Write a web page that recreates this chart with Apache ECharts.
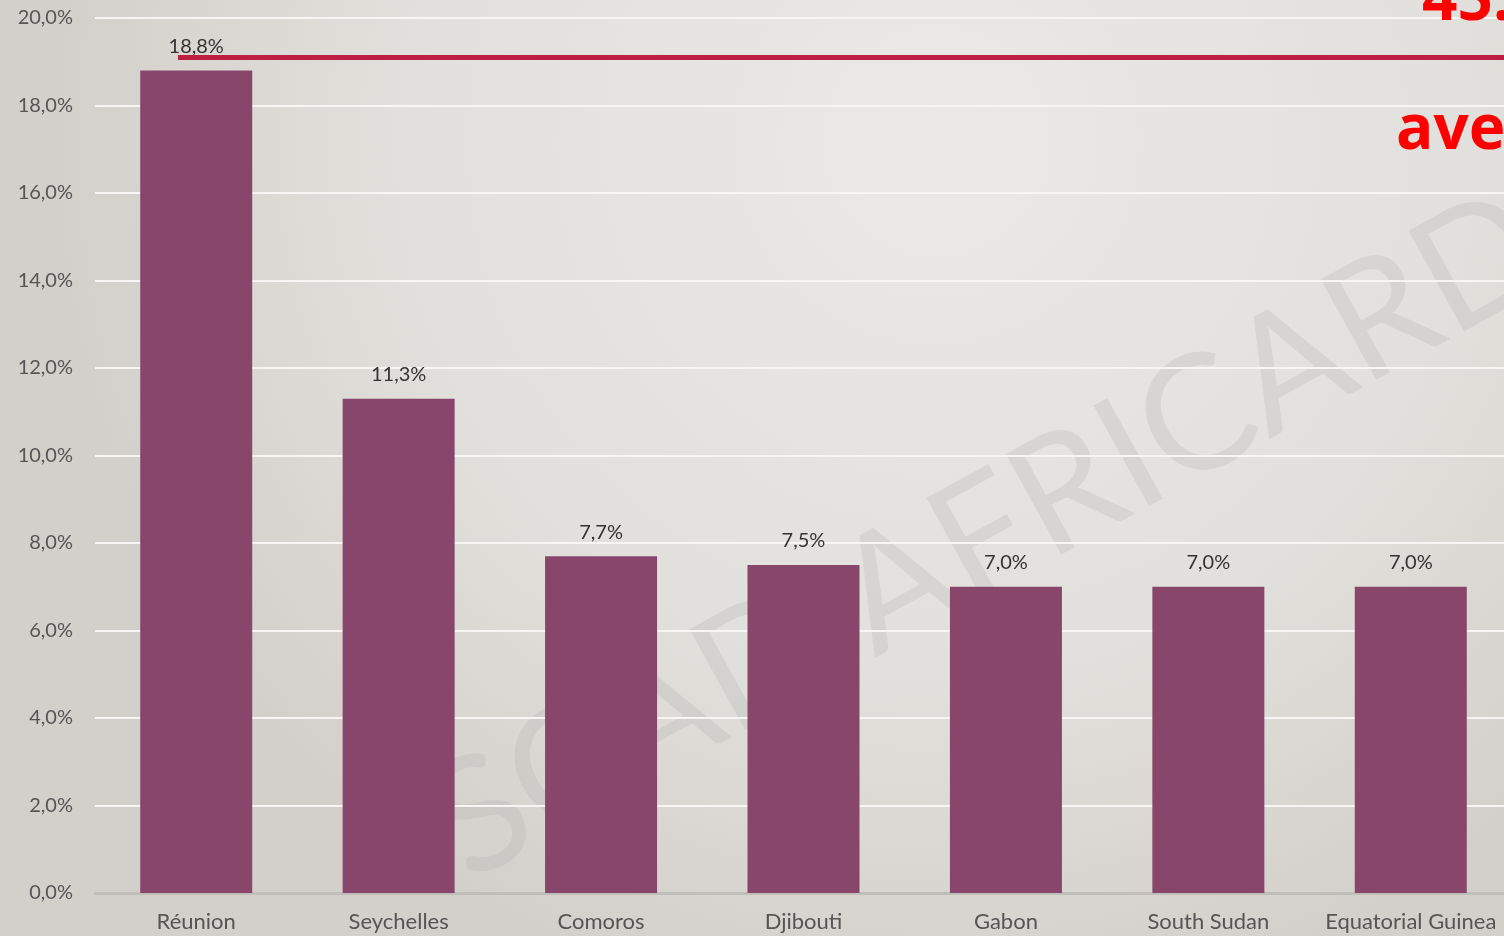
<!DOCTYPE html>
<html>
<head>
<meta charset="utf-8">
<script src="https://cdn.jsdelivr.net/npm/echarts@6/dist/echarts.min.js"></script>
<style>
html,body{margin:0;padding:0;width:1504px;height:936px;overflow:hidden;}
#c{width:1512px;height:936px;}
</style>
</head>
<body>
<div id="c"></div>
<script>
const categories = ['Réunion', 'Seychelles', 'Comoros', 'Djibouti', 'Gabon', 'South Sudan', 'Equatorial Guinea'];
const values = [18.8, 11.3, 7.7, 7.5, 7.0, 7.0, 7.0];
const referenceValue = 19.1;
const yTicks = { min: 0, max: 20, interval: 2 };
const overlayTexts = ['45.', 'ave'];
const watermarkText = 'SCAD AFRICARD';

const fmt = v => v.toFixed(1).replace('.', ',') + '%';
const chart = echarts.init(document.getElementById('c'));
chart.setOption({
  backgroundColor: {
    type: 'radial', x: 0.62, y: 0.15, r: 0.95,
    colorStops: [
      { offset: 0, color: '#ebe9e5' },
      { offset: 0.6, color: '#e2e0dc' },
      { offset: 1, color: '#d3d0cb' }
    ]
  },
  animation: false,
  graphic: [
    {
      type: 'text', z: 0, silent: true,
      rotation: 29 * Math.PI / 180,
      x: 482, y: 908,
      style: {
        text: watermarkText, fill: 'rgba(170,170,170,0.24)',
        font: '400 160px Lato', textAlign: 'left', textVerticalAlign: 'bottom'
      }
    },
    {
      type: 'text', z: 100, x: 1422, y: 33,
      style: { text: overlayTexts[0], fill: '#ff0000', font: 'bold 62px "Open Sans"', textAlign: 'left', textVerticalAlign: 'bottom' }
    },
    {
      type: 'text', z: 100, x: 1396, y: 100,
      style: { text: overlayTexts[1], fill: '#ff0000', font: 'bold 62px "Open Sans"', textAlign: 'left', textVerticalAlign: 'top' }
    }
  ],
  grid: { left: 95, right: 0, top: 18, bottom: 43, containLabel: false },
  xAxis: {
    type: 'category', data: categories,
    axisLine: { show: true, lineStyle: { color: '#c0bebb', width: 3 } },
    axisTick: { show: false },
    axisLabel: { color: '#555', fontSize: 22, fontFamily: 'Lato', margin: 18, interval: 0 },
    splitLine: { show: false }
  },
  yAxis: {
    type: 'value', min: yTicks.min, max: yTicks.max, interval: yTicks.interval,
    axisLine: { show: false }, axisTick: { show: false },
    axisLabel: { color: '#555', fontSize: 20, fontFamily: 'Lato', margin: 22, formatter: v => fmt(v) },
    splitLine: { lineStyle: { color: '#f7f6f4', width: 2 } }
  },
  series: [{
    type: 'bar', data: values, barWidth: 112, z: 3,
    itemStyle: { color: '#88466b' },
    label: { show: true, position: 'top', distance: 14, color: '#333', fontSize: 20, fontFamily: 'Lato', formatter: p => fmt(p.value) },
    markLine: {
      silent: true, symbol: ['none', 'none'], z: 5,
      label: { show: false },
      lineStyle: { color: '#bc1f42', width: 5, type: 'solid' },
      data: [[ { xAxis: 0, yAxis: referenceValue, x: 178 }, { xAxis: categories.length - 1, yAxis: referenceValue, x: 1512 } ]]
    }
  }]
});
</script>
</body>
</html>
